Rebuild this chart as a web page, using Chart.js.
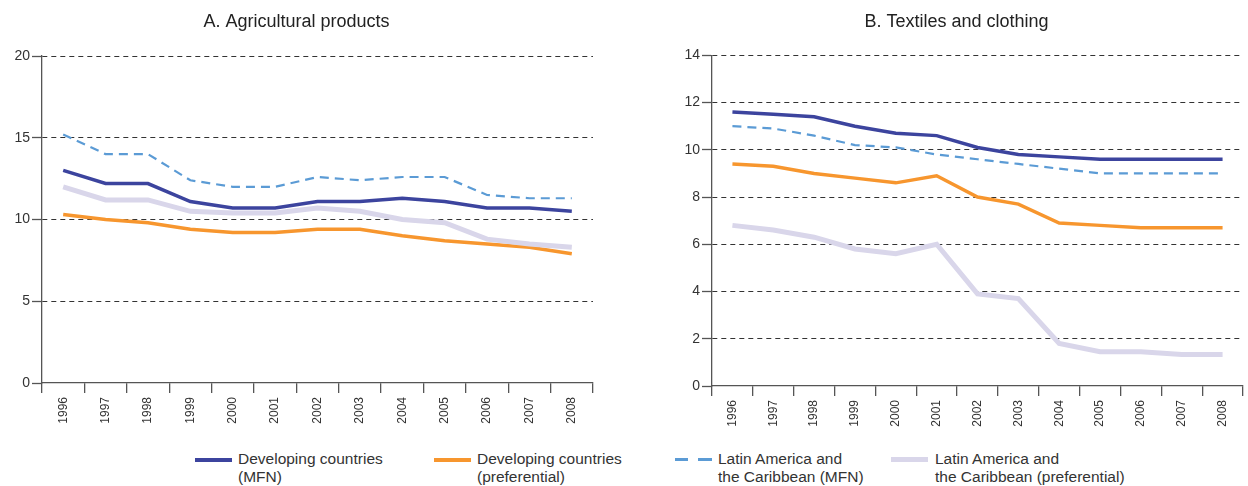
<!DOCTYPE html>
<html>
<head>
<meta charset="utf-8">
<script src="https://cdn.jsdelivr.net/npm/chart.js@4/dist/chart.umd.min.js"></script>
<style>
  body { margin: 0; background: #fff; font-family: "Liberation Sans", Arial, sans-serif; }
  #wrap { position: relative; width: 1248px; height: 486px; }
  .box { position: absolute; top: 0; height: 450px; }
  #boxA { left: 0; width: 610px; }
  #boxB { left: 670px; width: 578px; }
  .leg { position: absolute; top: 450px; font-size: 15.5px; color: #333; line-height: 18px; }
  .sw { position: absolute; top: 8px; width: 37px; height: 0; }
  .txt { position: absolute; left: 43px; top: 0; white-space: nowrap; }
</style>
</head>
<body>
<div id="wrap">
  <div class="box" id="boxA"><canvas id="chartA"></canvas></div>
  <div class="box" id="boxB"><canvas id="chartB"></canvas></div>
  <div class="leg" style="left:195px"><div class="sw" style="border-top:4px solid #3c449e"></div><div class="txt">Developing countries<br>(MFN)</div></div>
  <div class="leg" style="left:434px"><div class="sw" style="border-top:4px solid #f7962e"></div><div class="txt">Developing countries<br>(preferential)</div></div>
  <div class="leg" style="left:675px"><div class="sw" style="border-top:3px dashed #5b9bd5; width:37px; border-image: repeating-linear-gradient(90deg,#5b9bd5 0 14px,transparent 14px 22px) 3"></div><div class="txt">Latin America and<br>the Caribbean (MFN)</div></div>
  <div class="leg" style="left:891px"><div class="sw" style="border-top:5px solid #d9d6ea; top:7px"></div><div class="txt" style="left:44px">Latin America and<br>the Caribbean (preferential)</div></div>
</div>
<script>
const years = ['1996','1997','1998','1999','2000','2001','2002','2003','2004','2005','2006','2007','2008'];

// A. Agricultural products
const agriDevMFN  = [13.0, 12.2, 12.2, 11.1, 10.7, 10.7, 11.1, 11.1, 11.3, 11.1, 10.7, 10.7, 10.5];
const agriDevPref = [10.3, 10.0, 9.8, 9.4, 9.2, 9.2, 9.4, 9.4, 9.0, 8.7, 8.5, 8.3, 7.9];
const agriLacMFN  = [15.2, 14.0, 14.0, 12.4, 12.0, 12.0, 12.6, 12.4, 12.6, 12.6, 11.5, 11.3, 11.3];
const agriLacPref = [12.0, 11.2, 11.2, 10.5, 10.4, 10.4, 10.7, 10.5, 10.0, 9.8, 8.8, 8.5, 8.3];

// B. Textiles and clothing
const texDevMFN  = [11.6, 11.5, 11.4, 11.0, 10.7, 10.6, 10.1, 9.8, 9.7, 9.6, 9.6, 9.6, 9.6];
const texDevPref = [9.4, 9.3, 9.0, 8.8, 8.6, 8.9, 8.0, 7.7, 6.9, 6.8, 6.7, 6.7, 6.7];
const texLacMFN  = [11.0, 10.9, 10.6, 10.2, 10.1, 9.8, 9.6, 9.4, 9.2, 9.0, 9.0, 9.0, 9.0];
const texLacPref = [6.8, 6.6, 6.3, 5.8, 5.6, 6.0, 3.9, 3.7, 1.8, 1.45, 1.45, 1.33, 1.33];

const FONT = '"Liberation Sans", Arial, sans-serif';

function makeDatasets(devMFN, devPref, lacMFN, lacPref) {
  return [
    { label: 'Latin America and the Caribbean (preferential)', data: lacPref, borderColor: '#d9d6ea', borderWidth: 5 },
    { label: 'Developing countries (preferential)', data: devPref, borderColor: '#f7962e', borderWidth: 3.5 },
    { label: 'Latin America and the Caribbean (MFN)', data: lacMFN, borderColor: '#5b9bd5', borderWidth: 2.2, borderDash: [9, 6] },
    { label: 'Developing countries (MFN)', data: devMFN, borderColor: '#3c449e', borderWidth: 3.5 }
  ];
}

function makeChart(id, title, datasets, yMax, yStep, padTop, padRight, xHeight) {
  return new Chart(document.getElementById(id), {
    type: 'line',
    data: { labels: years, datasets: datasets },
    options: {
      responsive: true,
      maintainAspectRatio: false,
      animation: false,
      elements: { point: { radius: 0 }, line: { tension: 0 } },
      layout: { padding: { top: 0, right: padRight, left: 0, bottom: 0 } },
      plugins: {
        legend: { display: false },
        tooltip: { enabled: false },
        title: {
          display: true, text: title, color: '#222',
          font: { family: FONT, size: 18, weight: 'normal' },
          padding: { top: 11, bottom: padTop }
        }
      },
      scales: {
        x: {
          offset: true,
          grid: { display: true, offset: true, drawOnChartArea: false, drawTicks: true, tickLength: 10, color: '#555', lineWidth: 1.3 },
          border: { display: true, color: '#555', width: 1.3 },
          ticks: { minRotation: 90, maxRotation: 90, autoSkip: false, color: '#333', padding: 4, font: { family: FONT, size: 12 } },
          afterFit: s => { s.height = xHeight; }
        },
        y: {
          min: 0, max: yMax,
          grid: {
            color: c => c.tick && c.tick.value === 0 ? 'rgba(0,0,0,0)' : '#333',
            lineWidth: 1, tickLength: 10, tickColor: '#555', tickWidth: 1.3
          },
          border: { display: true, color: '#555', width: 1.3, dash: [5, 4] },
          ticks: { stepSize: yStep, color: '#333', padding: 2, font: { family: FONT, size: 14 } },
          afterFit: s => { s.width = 42; }
        }
      }
    }
  });
}

makeChart('chartA', 'A. Agricultural products',
  makeDatasets(agriDevMFN, agriDevPref, agriLacMFN, agriLacPref), 20, 5, 23.4, 17, 67);
makeChart('chartB', 'B. Textiles and clothing',
  makeDatasets(texDevMFN, texDevPref, texLacMFN, texLacPref), 14, 2, 22.7, 5, 64);
</script>
</body>
</html>
